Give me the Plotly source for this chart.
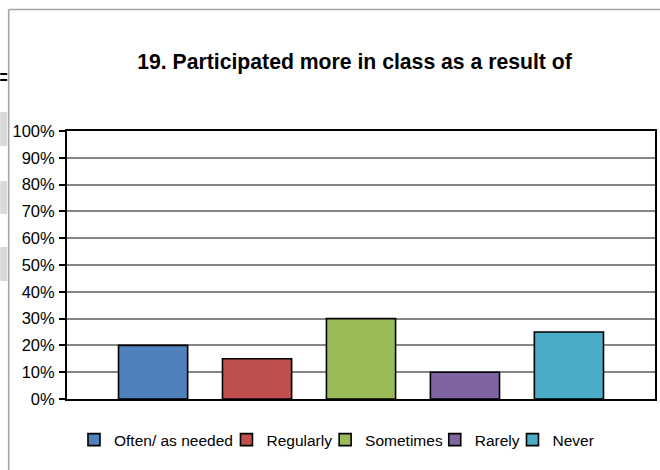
import plotly.graph_objects as go

# ---- data ----
title_text = "19. Participated more in class as a result of"
series_names = ["Often/ as needed", "Regularly", "Sometimes", "Rarely", "Never"]
series_values = [0.20, 0.15, 0.30, 0.10, 0.25]
series_colors = ["#4F81BD", "#C0504D", "#9BBB59", "#8064A2", "#4BACC6"]
category = [""]

# ---- layout constants ----
W, H = 660, 470
ML, MR, MT, MB = 67, 3, 131, 71
PW, PH = W - ML - MR, H - MT - MB
legend_left_px = [74, 227, 326, 436, 514]   # left edge of each legend box


def px_x(x):
    return (x - ML) / PW


def px_y(y):
    return (H - MB - y) / PH


fig = go.Figure()
for i, (name, val, col) in enumerate(zip(series_names, series_values, series_colors)):
    fig.add_trace(go.Bar(
        x=category, y=[val], name=name,
        legend="legend" if i == 0 else "legend%d" % (i + 1),
        marker=dict(color=col, line=dict(color="#000000", width=1.6)),
    ))

shapes = []
# chart-area border (gray), extending past the right and bottom edges
shapes.append(dict(type="line", xref="paper", yref="paper",
                   x0=px_x(8.5), x1=px_x(8.5), y0=px_y(9.5), y1=px_y(480),
                   line=dict(color="#A6A6A6", width=1.6)))
shapes.append(dict(type="line", xref="paper", yref="paper",
                   x0=px_x(8.5), x1=px_x(670), y0=px_y(9.5), y1=px_y(9.5),
                   line=dict(color="#A6A6A6", width=1.6)))
# spreadsheet fragments at the left edge
for yy in (74, 80):
    shapes.append(dict(type="line", xref="paper", yref="paper",
                       x0=px_x(0), x1=px_x(7), y0=px_y(yy), y1=px_y(yy),
                       line=dict(color="#000000", width=2)))
for (ya, yb) in ((112, 146), (181, 214), (247, 281)):
    shapes.append(dict(type="rect", xref="paper", yref="paper",
                       x0=px_x(0), x1=px_x(7), y0=px_y(yb), y1=px_y(ya),
                       fillcolor="#D9D9D9", line=dict(width=0)))

legends = {}
for i, lx in enumerate(legend_left_px):
    key = "legend" if i == 0 else "legend%d" % (i + 1)
    legends[key] = dict(orientation="h", x=px_x(lx), xanchor="left",
                        y=px_y(440), yanchor="middle",
                        font=dict(size=15.5), itemwidth=30,
                        bgcolor="rgba(0,0,0,0)")

fig.update_layout(
    width=W, height=H,
    margin=dict(l=ML, r=MR, t=MT, b=MB, pad=0),
    paper_bgcolor="white", plot_bgcolor="white",
    font=dict(family="Liberation Sans, Arial, sans-serif", color="#000000"),
    title=dict(text="<b>" + title_text + "</b>", x=354.5 / W, xref="container",
               xanchor="center", y=1 - 62 / H, yref="container", yanchor="middle",
               font=dict(size=21.2, color="#000000")),
    barmode="group", bargap=0.116, bargroupgap=0.335,
    showlegend=True,
    shapes=shapes,
    **legends,
)
fig.update_xaxes(showticklabels=False, ticks="", showgrid=False,
                 showline=True, linecolor="#000000", linewidth=2, mirror=True)
fig.update_yaxes(range=[0, 1], dtick=0.1, tick0=0, tickformat=".0%",
                 ticks="outside", ticklen=6, tickcolor="#000000", tickwidth=1.5,
                 showgrid=True, gridcolor="#868686", gridwidth=1.5,
                 showline=True, linecolor="#000000", linewidth=2, mirror=True,
                 zeroline=False, tickfont=dict(size=16.5), ticklabelstandoff=1)

fig.write_html("out.html", config={"displayModeBar": False},
               post_script="document.body.style.margin='0';document.body.style.padding='0';")
